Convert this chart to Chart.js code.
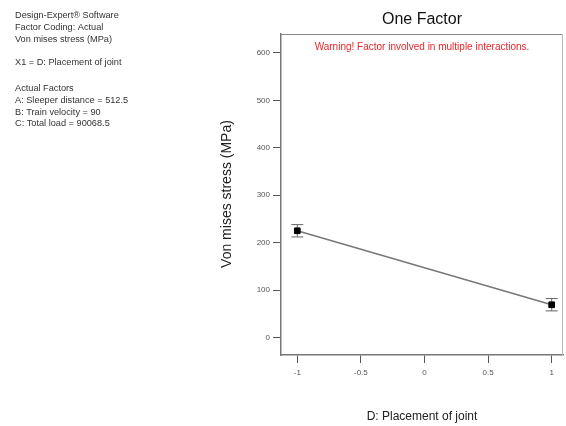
<!DOCTYPE html>
<html><head><meta charset="utf-8">
<script src="https://cdn.jsdelivr.net/npm/chart.js@4/dist/chart.umd.min.js"></script>
<style>html,body{margin:0;padding:0;background:#fff;}#wrap{width:566px;height:426px;}</style>
</head><body><div id="wrap"><canvas id="c" width="566" height="426"></canvas></div>
<script>
const xValues = [-1, 1];
const yValues = [225, 69];
const errLow = [212, 56];
const errHigh = [238, 82];
const xTicks = [-1, -0.5, 0, 0.5, 1];
const yTicks = [0, 100, 200, 300, 400, 500, 600];
const infoLines = [
  ["Design-Expert\u00AE Software", 15],
  ["Factor Coding: Actual", 27],
  ["Von mises stress (MPa)", 39],
  ["X1 = D: Placement of joint", 62],
  ["Actual Factors", 88],
  ["A: Sleeper distance = 512.5", 100],
  ["B: Train velocity = 90", 112],
  ["C: Total load = 90068.5", 123]
];
const FONT = "'Liberation Sans', Arial, sans-serif";

const overlay = {
  id: 'overlay',
  beforeDatasetsDraw(chart) {
    const {ctx, scales: {x, y}} = chart;
    ctx.save();
    ctx.strokeStyle = '#666';
    ctx.lineWidth = 1;
    for (let i = 0; i < xValues.length; i++) {
      const px = x.getPixelForValue(xValues[i]);
      const pl = y.getPixelForValue(errLow[i]);
      const ph = y.getPixelForValue(errHigh[i]);
      ctx.beginPath();
      ctx.moveTo(px, pl); ctx.lineTo(px, ph);
      ctx.moveTo(px - 6, pl); ctx.lineTo(px + 6, pl);
      ctx.moveTo(px - 6, ph); ctx.lineTo(px + 6, ph);
      ctx.stroke();
    }
    ctx.restore();
  },
  afterDraw(chart) {
    const {ctx, chartArea: a} = chart;
    ctx.save();
    ctx.strokeStyle = '#888';
    ctx.lineWidth = 1;
    ctx.beginPath();
    ctx.moveTo(a.left, a.top + 0.5); ctx.lineTo(a.right, a.top + 0.5);
    ctx.stroke();
    ctx.strokeStyle = '#bbb';
    ctx.beginPath();
    ctx.moveTo(a.right - 0.5, a.top); ctx.lineTo(a.right - 0.5, a.bottom);
    ctx.stroke();
    const cx = (a.left + a.right) / 2;
    ctx.textAlign = 'center';
    ctx.textBaseline = 'middle';
    ctx.fillStyle = '#111';
    ctx.font = '16px ' + FONT;
    ctx.fillText('One Factor', cx, 20);
    ctx.fillStyle = '#e8262b';
    ctx.font = '10px ' + FONT;
    ctx.fillText('Warning! Factor involved in multiple interactions.', cx, 47);
    ctx.fillStyle = '#222';
    ctx.font = '12px ' + FONT;
    ctx.fillText('D: Placement of joint', cx, 417);
    ctx.save();
    ctx.translate(227, 194);
    ctx.rotate(-Math.PI / 2);
    ctx.font = '14px ' + FONT;
    ctx.fillText('Von mises stress (MPa)', 0, 0);
    ctx.restore();
    ctx.textAlign = 'left';
    ctx.fillStyle = '#333';
    ctx.font = '9.2px ' + FONT;
    for (const [t, yy] of infoLines) ctx.fillText(t, 15, yy);
    ctx.restore();
  }
};

new Chart(document.getElementById('c'), {
  type: 'scatter',
  data: {
    datasets: [{
      data: xValues.map((v, i) => ({x: v, y: yValues[i]})),
      showLine: true,
      borderColor: '#777',
      borderWidth: 1.5,
      pointStyle: 'rect',
      pointRadius: 4,
      pointBackgroundColor: '#000',
      pointBorderColor: '#000',
      pointBorderWidth: 1
    }]
  },
  options: {
    responsive: false,
    animation: false,
    devicePixelRatio: 1,
    layout: {autoPadding: false, padding: {top: 34, right: 3, left: 0, bottom: 0}},
    plugins: {legend: {display: false}, tooltip: {enabled: false}, title: {display: false}},
    scales: {
      x: {
        min: -1.128, max: 1.089,
        afterBuildTicks: s => { s.ticks = xTicks.map(v => ({value: v})); },
        afterFit: s => { s.height = 71; },
        grid: {drawOnChartArea: false, tickLength: 8, color: '#555'},
        border: {color: '#777', width: 1.5},
        ticks: {color: '#555', font: {size: 8, family: FONT}, padding: 5, maxRotation: 0,
                callback: v => String(v)}
      },
      y: {
        min: -37, max: 640,
        afterBuildTicks: s => { s.ticks = yTicks.map(v => ({value: v})); },
        afterFit: s => { s.width = 281; },
        grid: {drawOnChartArea: false, tickLength: 8, color: '#555'},
        border: {color: '#777', width: 1.5},
        ticks: {color: '#555', font: {size: 8, family: FONT}, padding: 3,
                callback: v => String(v)}
      }
    }
  },
  plugins: [overlay]
});
</script></body></html>
